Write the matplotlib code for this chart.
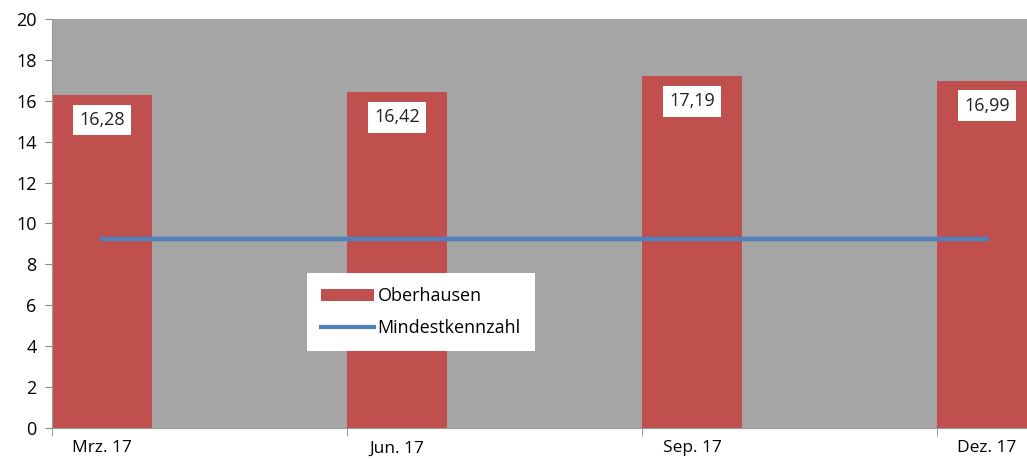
import matplotlib.pyplot as plt
from matplotlib.patches import Patch
from matplotlib.lines import Line2D

# quarterly values
quarters = ["Mrz. 17", "Jun. 17", "Sep. 17", "Dez. 17"]
oberhausen = [16.28, 16.42, 17.19, 16.99]
mindestkennzahl = [9.25, 9.25, 9.25, 9.25]
value_labels = ["16,28", "16,42", "17,19", "16,99"]

bar_color = "#C0504D"
line_color = "#4F81BD"
bg_color = "#A5A5A5"

plt.rcParams['font.family'] = ['Open Sans', 'DejaVu Sans']

fig = plt.figure(figsize=(10.27, 4.62), dpi=100)
ax = fig.add_axes([52 / 1027, 34 / 462, 975 / 1027, 409 / 462])
ax.set_facecolor(bg_color)

x = list(range(len(quarters)))
bw = 0.34
bars = ax.bar(x, oberhausen, width=bw, color=bar_color, zorder=2)
ax.plot(x, mindestkennzahl, color=line_color, linewidth=3.2, zorder=3)

for xi, val, lab in zip(x, oberhausen, value_labels):
    ax.annotate(lab, (xi, val), xytext=(0, -18), textcoords="offset points",
                ha="center", va="center", fontsize=13, color="#222222",
                bbox=dict(boxstyle="square,pad=0.35", fc="white", ec="none"),
                zorder=4)

ax.set_xlim(-bw / 2, 3 + 40 / 295)
ax.set_ylim(0, 20)
ax.set_yticks(range(0, 21, 2))
ax.tick_params(axis="y", labelsize=13, length=5, color="#888888", pad=6)

# category labels centred on bars, tick marks on slot boundaries
ax.set_xticks(x)
ax.set_xticklabels(quarters, fontsize=12.5)
ax.tick_params(axis="x", length=0, pad=9)
ax.set_xticks([xi - bw / 2 for xi in x], minor=True)
ax.tick_params(axis="x", which="minor", length=6, color="#888888")

for side in ["top", "right"]:
    ax.spines[side].set_visible(False)
for side in ["left", "bottom"]:
    ax.spines[side].set_color("#999999")

handles = [Patch(facecolor=bar_color, edgecolor="none"),
           Line2D([0], [0], color=line_color, linewidth=3)]
leg = ax.legend(handles, ["Oberhausen", "Mindestkennzahl"],
                loc="upper left", bbox_to_anchor=(255 / 975, (428 - 273) / 409),
                borderaxespad=0, fontsize=13, frameon=True, fancybox=False,
                framealpha=1, handlelength=2.9, handletextpad=0.2,
                borderpad=0.8, labelspacing=0.75)
leg.get_frame().set_edgecolor("none")
leg.get_frame().set_facecolor("white")

fig.savefig("out.png", dpi=100)
